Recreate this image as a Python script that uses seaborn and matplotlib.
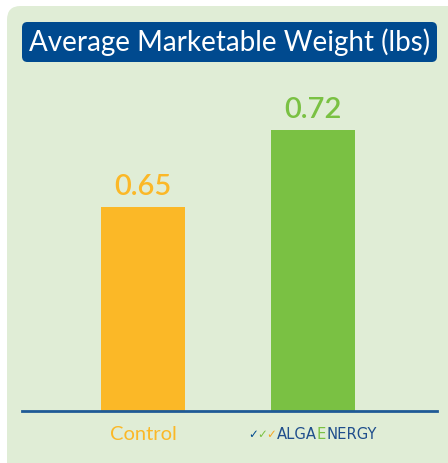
import matplotlib
matplotlib.use("Agg")
import matplotlib.pyplot as plt
from matplotlib.patches import FancyBboxPatch
import seaborn as sns
import pandas as pd

categories = ["Control", "AlgaEnergy"]
values = [0.65, 0.72]
value_labels = ["0.65", "0.72"]
colors = ["#FBB827", "#7AC143"]
title = "Average Marketable Weight (lbs)"

BG = "#E0EDD6"
BLUE = "#004A8F"

sns.set_theme(style="white")
plt.rcParams["font.family"] = ["Lato", "DejaVu Sans"]

W, H = 448, 463
fig = plt.figure(figsize=(W / 100, H / 100), dpi=100)
fig.patch.set_facecolor("white")

# green panel
panel = FancyBboxPatch((7 / W, -0.1), 1.2, (H - 6) / H + 0.1,
                       boxstyle="round,pad=0,rounding_size=0.03",
                       transform=fig.transFigure, facecolor=BG, edgecolor="none",
                       zorder=-2)
fig.patches.append(panel)

# title box
tb = FancyBboxPatch((22 / W, 1 - 62 / H), (437 - 22) / W, 40 / H,
                    boxstyle="round,pad=0,rounding_size=0.012",
                    transform=fig.transFigure, facecolor=BLUE, edgecolor="none",
                    zorder=-1)
fig.patches.append(tb)
fig.text((22 + 437) / 2 / W, 1 - 42 / H, title, color="white", fontsize=20,
         ha="center", va="center", zorder=2)

ax = fig.add_axes([22 / W, 1 - 411 / H, (437 - 22) / W, (411 - 70) / H])
ax.set_zorder(1)
ax.set_facecolor("none")
df = pd.DataFrame({"cat": categories, "val": values})
sns.barplot(data=df, x="cat", y="val", hue="cat", palette=colors, width=0.495,
            saturation=1, legend=False, ax=ax, zorder=2, linewidth=0,
            edgecolor="none")
ax.set_ylim(0.4645, 0.4645 + 341 / 1100)
ax.set_xlim(-0.712, 1.729)
for s in ["top", "right", "left"]:
    ax.spines[s].set_visible(False)
ax.spines["bottom"].set_color("#1F5A96")
ax.spines["bottom"].set_linewidth(2)
ax.spines["bottom"].set_zorder(3)
ax.set_yticks([])
ax.set_xticks([])
ax.set_xlabel("")
ax.set_ylabel("")

for i, (v, lab, c) in enumerate(zip(values, value_labels, colors)):
    ax.annotate(lab, (i, v), xytext=(0, 5), textcoords="offset points",
                ha="center", va="bottom", color=c, fontsize=21,
                fontweight="semibold")

# x labels
ax.annotate("Control", (0, 0), xycoords=("data", "axes fraction"),
            xytext=(0, -17), textcoords="offset points", ha="center", va="center",
            color=colors[0], fontsize=14.5)

# AlgaEnergy logo as chained text
y_off = -17
c1 = ax.annotate("✓", (1, 0), xycoords=("data", "axes fraction"), xytext=(-47, y_off),
                 textcoords="offset points", ha="left", va="center", color=BLUE,
                 fontsize=8.5, family="DejaVu Sans", fontweight="bold")
c2 = ax.annotate("✓", (1.0, 0.5), xycoords=c1, xytext=(-0.5, 0),
                 textcoords="offset points", ha="left", va="center", color="#7AC143",
                 fontsize=8.5, family="DejaVu Sans", fontweight="bold")
c3 = ax.annotate("✓", (1.0, 0.5), xycoords=c2, xytext=(-0.5, 0),
                 textcoords="offset points", ha="left", va="center", color="#F5A623",
                 fontsize=8.5, family="DejaVu Sans", fontweight="bold")
t1 = ax.annotate("ALGA", (1.0, 0.5), xycoords=c3, xytext=(0.5, 0),
                 textcoords="offset points", ha="left", va="center", color="#1F4E8C",
                 fontsize=10.6, family="DejaVu Sans")
t2 = ax.annotate("E", (1.0, 0.5), xycoords=t1, xytext=(0, 0),
                 textcoords="offset points", ha="left", va="center", color="#7AC143",
                 fontsize=10.6, family="DejaVu Sans")
t3 = ax.annotate("NERGY", (1.0, 0.5), xycoords=t2, xytext=(0, 0),
                 textcoords="offset points", ha="left", va="center", color="#1F4E8C",
                 fontsize=10.6, family="DejaVu Sans")

fig.savefig("out.png", dpi=100, facecolor=fig.get_facecolor())
